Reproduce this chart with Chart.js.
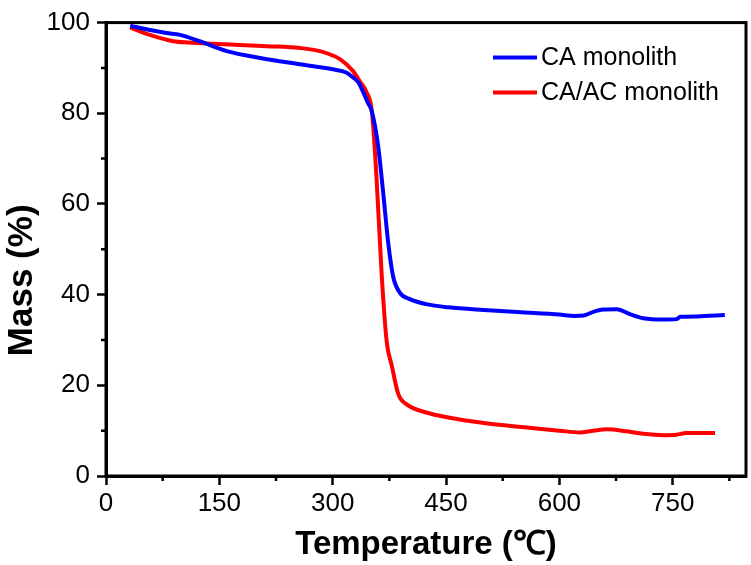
<!DOCTYPE html>
<html>
<head>
<meta charset="utf-8">
<script src="https://cdn.jsdelivr.net/npm/chart.js@4"></script>
<style>
html,body{margin:0;padding:0;background:#fff;}
canvas{display:block;}
</style>
</head>
<body>
<canvas id="c" width="751" height="565"></canvas>
<script>
// ---- data ----
const seriesNames = ['CA monolith', 'CA/AC monolith'];
const caTemp = [32, 60, 80, 98, 124, 160, 204, 257, 300, 318, 327, 334, 340, 346, 352, 360, 367, 373.6, 380, 389, 402, 424, 453, 500, 550, 600, 620, 632, 645, 658, 676, 693.5, 711, 738, 755, 760, 782, 819];
const caMass = [99.3, 98.3, 97.7, 97.3, 95.9, 93.7, 92.2, 90.8, 89.7, 89.0, 87.9, 86.8, 84.8, 82.5, 80.3, 73, 62.2, 51.3, 44, 40.4, 39, 37.9, 37.2, 36.6, 36.1, 35.6, 35.3, 35.4, 36.2, 36.7, 36.8, 35.7, 34.8, 34.5, 34.6, 35.1, 35.2, 35.5];
const cacTemp = [32, 58, 89, 110, 133, 213, 257, 283, 310, 327, 336, 345, 352, 358, 365, 371.5, 378, 387, 398, 424, 453, 500, 550, 600, 627, 645, 663, 689, 711, 738, 755, 768, 806];
const cacMass = [98.9, 97.3, 95.9, 95.6, 95.4, 94.8, 94.4, 93.7, 91.9, 89.3, 87, 84.6, 80.3, 65.8, 44, 29.6, 24.5, 18, 15.8, 14, 12.9, 11.7, 10.8, 10.0, 9.6, 10.0, 10.3, 9.85, 9.3, 9.0, 9.1, 9.5, 9.5];
const xMajorTicks = [0, 150, 300, 450, 600, 750];
const yMajorTicks = [0, 20, 40, 60, 80, 100];
const xTitle = 'Temperature (℃)';
const yTitle = 'Mass (%)';
const colors = ['#0000FF', '#FF0000'];

const toPts = (xs, ys) => xs.map((x, i) => ({x: x, y: ys[i]}));
const FONT = "'Liberation Sans', Arial, sans-serif";

const frameAndMinor = {
  id: 'frameAndMinor',
  afterDraw(chart) {
    const ctx = chart.ctx, a = chart.chartArea;
    const xs = chart.scales.x, ys = chart.scales.y;
    ctx.save();
    ctx.strokeStyle = '#000';
    ctx.lineWidth = 3;
    ctx.strokeRect(a.left, a.top, a.right - a.left, a.bottom - a.top);
    ctx.lineWidth = 2.5;
    ctx.beginPath();
    for (let v = 75; v <= xs.max; v += 150) {
      const px = xs.getPixelForValue(v);
      ctx.moveTo(px, a.bottom); ctx.lineTo(px, a.bottom + 5);
    }
    for (let v = 10; v < ys.max; v += 20) {
      const py = ys.getPixelForValue(v);
      ctx.moveTo(a.left, py); ctx.lineTo(a.left - 5, py);
    }
    ctx.stroke();
    // y axis title
    ctx.save();
    ctx.translate(22, (a.top + a.bottom) / 2 + 31);
    ctx.rotate(-Math.PI / 2);
    ctx.font = 'bold 35px ' + FONT;
    ctx.fillStyle = '#000';
    ctx.textAlign = 'center';
    ctx.textBaseline = 'middle';
    ctx.fillText(yTitle, 0, 0);
    ctx.restore();
    // legend
    const lx0 = a.right - 253, lx1 = a.right - 209, tx = a.right - 205;
    const rows = [a.top + 35, a.top + 70];
    ctx.font = '25px ' + FONT;
    ctx.textBaseline = 'middle';
    ctx.textAlign = 'left';
    seriesNames.forEach((n, i) => {
      ctx.strokeStyle = colors[i];
      ctx.lineWidth = 4;
      ctx.beginPath();
      ctx.moveTo(lx0, rows[i]); ctx.lineTo(lx1, rows[i]);
      ctx.stroke();
      ctx.fillStyle = '#000';
      ctx.fillText(n, tx, rows[i] + 1);
    });
    ctx.restore();
  }
};

new Chart(document.getElementById('c'), {
  type: 'line',
  data: {
    datasets: [
      {label: seriesNames[0], data: toPts(caTemp, caMass), borderColor: colors[0], borderWidth: 4, pointRadius: 0, cubicInterpolationMode: 'monotone', fill: false},
      {label: seriesNames[1], data: toPts(cacTemp, cacMass), borderColor: colors[1], borderWidth: 4, pointRadius: 0, cubicInterpolationMode: 'monotone', fill: false}
    ]
  },
  options: {
    responsive: false,
    animation: false,
    devicePixelRatio: 1,
    layout: {padding: {left: 0, right: 5, top: 16, bottom: 0}},
    plugins: {legend: {display: false}, tooltip: {enabled: false}},
    scales: {
      x: {
        type: 'linear', min: 0, max: 847,
        afterFit(s) { s.height = 89; },
        ticks: {
          stepSize: 150, includeBounds: false, autoSkip: false, maxRotation: 0,
          color: '#000', font: {family: FONT, size: 26}, padding: 3,
          callback: v => xMajorTicks.includes(v) ? String(v) : ''
        },
        grid: {drawOnChartArea: false, tickLength: 9, tickWidth: 2.5, tickColor: '#000'},
        border: {color: '#000', width: 3},
        title: {display: true, text: xTitle, color: '#000', font: {family: FONT, size: 33, weight: 'bold'}, padding: {top: 0, bottom: 0}}
      },
      y: {
        min: 0, max: 100,
        afterFit(s) { s.width = 106; },
        ticks: {
          stepSize: 20, autoSkip: false, color: '#000', font: {family: FONT, size: 26}, padding: 7,
          callback: v => yMajorTicks.includes(v) ? String(v) : ''
        },
        grid: {drawOnChartArea: false, tickLength: 9, tickWidth: 2.5, tickColor: '#000'},
        border: {color: '#000', width: 3},
        title: {display: false}
      }
    }
  },
  plugins: [frameAndMinor]
});
</script>
</body>
</html>
